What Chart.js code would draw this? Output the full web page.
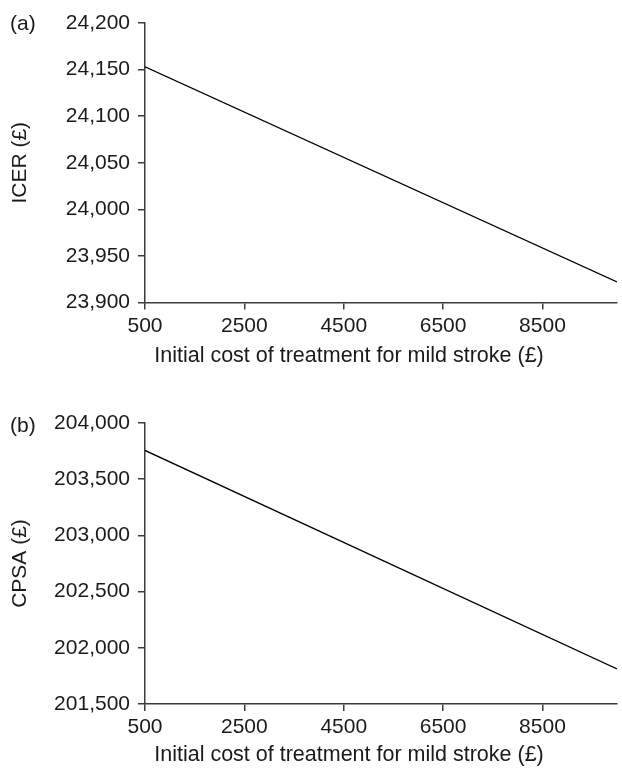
<!DOCTYPE html>
<html>
<head>
<meta charset="utf-8">
<title>ICER and CPSA vs initial cost of treatment for mild stroke</title>
<script src="https://cdn.jsdelivr.net/npm/chart.js@4/dist/chart.umd.min.js"></script>
<style>
  html, body { margin: 0; padding: 0; background: #fff; }
  #wrap { position: relative; width: 622px; height: 770px; }
  .panel { position: absolute; left: 0; width: 622px; height: 385px; }
  #panelA { top: 0; }
  #panelB { top: 385px; }
</style>
</head>
<body>
<div id="wrap">
  <div class="panel" id="panelA"><canvas id="chartA"></canvas></div>
  <div class="panel" id="panelB"><canvas id="chartB"></canvas></div>
</div>
<script>
// Initial cost of treatment for mild stroke (£), start and end of the sensitivity range
const costValues = [500, 10000];
// (a) incremental cost-effectiveness ratio (£)
const icerValues = [24153, 23922];
// (b) CPSA (£)
const cpsaValues = [203756, 201812];

const costTicks = [500, 2500, 4500, 6500, 8500];
const icerTicks = [23900, 23950, 24000, 24050, 24100, 24150, 24200];
const cpsaTicks = [201500, 202000, 202500, 203000, 203500, 204000];

const xTitle = 'Initial cost of treatment for mild stroke (£)';
const FONT = "'Liberation Sans', Arial, Helvetica, sans-serif";
const TEXT = '#1a1a1a';
const AXIS = '#3c3c3c';

// Writes the panel letter in the top-left corner and the x-axis caption under the ticks
const panelText = {
  id: 'panelText',
  afterDraw(chart, args, opts) {
    const ctx = chart.ctx;
    ctx.save();
    ctx.fillStyle = TEXT;
    ctx.textBaseline = 'middle';
    ctx.font = '21px ' + FONT;
    ctx.textAlign = 'left';
    ctx.fillText(opts.letter, opts.letterX, opts.letterY);
    ctx.font = '21.5px ' + FONT;
    ctx.textAlign = 'center';
    ctx.fillText(opts.caption, opts.captionX, opts.captionY);
    ctx.restore();
  }
};

function makeChart(canvasId, yValues, yTicks, yTitle, cfg) {
  const points = costValues.map((x, i) => ({ x: x, y: yValues[i] }));
  return new Chart(document.getElementById(canvasId), {
    type: 'line',
    data: {
      datasets: [{
        data: points,
        borderColor: '#000',
        borderWidth: 1.3,
        pointRadius: 0,
        tension: 0,
        fill: false
      }]
    },
    options: {
      responsive: true,
      maintainAspectRatio: false,
      animation: false,
      events: [],
      layout: { padding: { left: 0, right: 5, top: cfg.top, bottom: 0 } },
      plugins: {
        legend: { display: false },
        tooltip: { enabled: false },
        panelText: {
          letter: cfg.letter, letterX: 10, letterY: cfg.letterY,
          caption: xTitle, captionX: 349, captionY: cfg.captionY
        }
      },
      scales: {
        x: {
          type: 'linear',
          min: costValues[0],
          max: costValues[costValues.length - 1],
          afterBuildTicks: s => { s.ticks = costTicks.map(v => ({ value: v })); },
          afterFit: s => { s.height = cfg.xHeight; },
          ticks: {
            color: TEXT,
            font: { family: FONT, size: 21 },
            padding: 4,
            maxRotation: 0,
            autoSkip: false,
            callback: v => String(v)
          },
          grid: { display: true, drawOnChartArea: false, drawTicks: true, tickLength: 7, color: AXIS, lineWidth: 1.5 },
          border: { display: true, color: AXIS, width: 1.5 },
          title: { display: false }
        },
        y: {
          type: 'linear',
          min: yTicks[0],
          max: yTicks[yTicks.length - 1],
          afterBuildTicks: s => { s.ticks = yTicks.map(v => ({ value: v })); },
          afterFit: s => { s.width = 145; },
          ticks: {
            color: TEXT,
            font: { family: FONT, size: 21 },
            padding: 8,
            autoSkip: false,
            callback: v => Number(v).toLocaleString('en-US')
          },
          grid: { display: true, drawOnChartArea: false, drawTicks: true, tickLength: 7, color: AXIS, lineWidth: 1.5 },
          border: { display: true, color: AXIS, width: 1.5 },
          title: {
            display: true,
            text: yTitle,
            color: TEXT,
            font: { family: FONT, size: 21 },
            padding: { top: 8, bottom: 0 }
          }
        }
      }
    },
    plugins: [panelText]
  });
}

makeChart('chartA', icerValues, icerTicks, 'ICER (£)', {
  letter: '(a)', letterY: 24, top: 23, xHeight: 82.5, captionY: 356.5
});
makeChart('chartB', cpsaValues, cpsaTicks, 'CPSA (£)', {
  letter: '(b)', letterY: 41, top: 38, xHeight: 66, captionY: 370.5
});
</script>
</body>
</html>
